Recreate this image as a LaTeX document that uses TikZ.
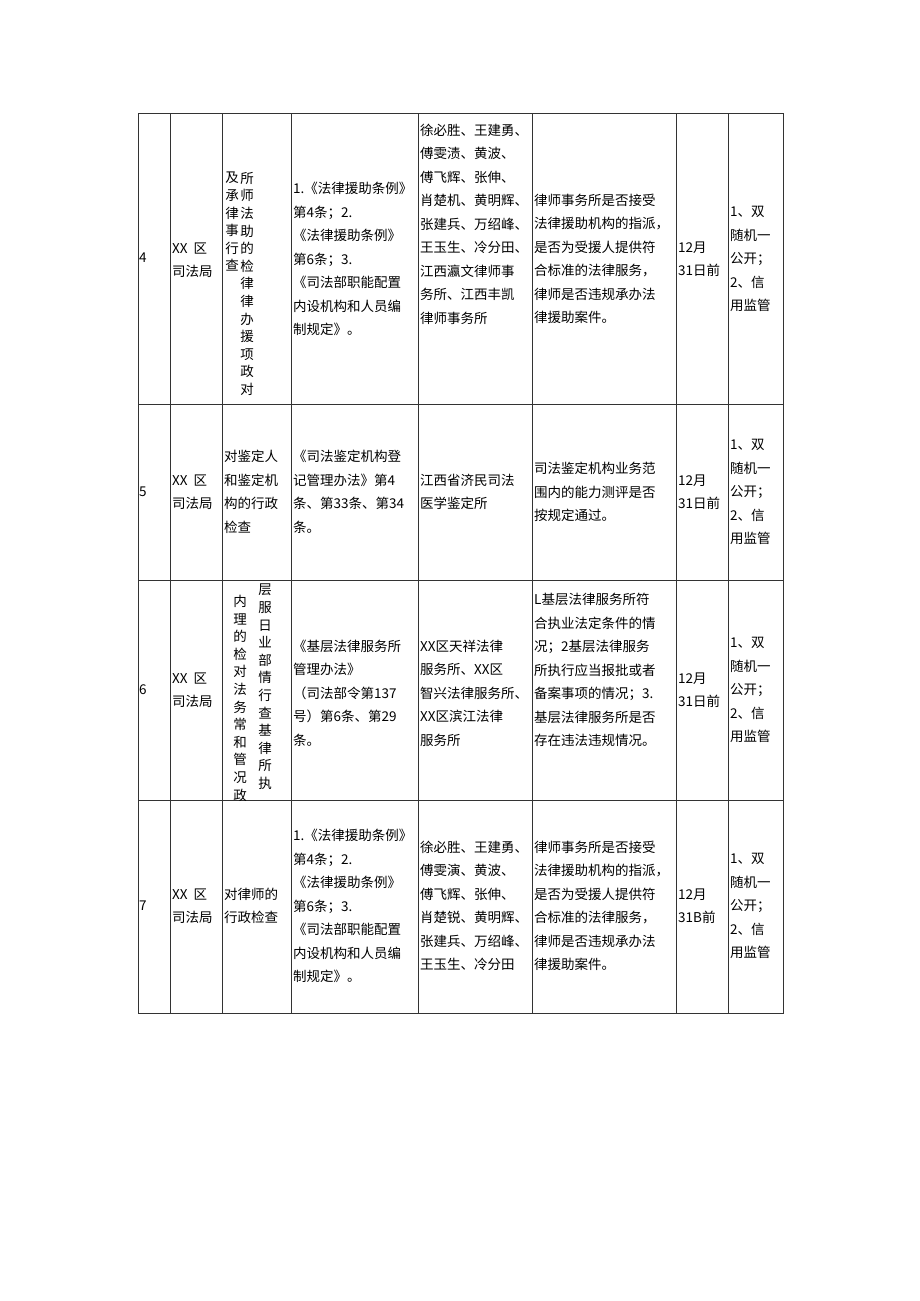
\documentclass[tikz,border=0pt]{standalone}
\usepackage{fontspec}
\setmainfont{Noto Sans CJK SC}
\begin{document}
\begin{tikzpicture}[x=1pt,y=-1pt,
  tx/.style={anchor=west,align=left,inner sep=0pt,font=\fontsize{13.5}{23.5}\selectfont},
  vt/.style={anchor=north,align=center,inner sep=0pt,font=\fontsize{13.5}{17.6}\selectfont}]
\useasboundingbox (0,0) rectangle (920,1301);
\draw[line width=0.8pt,black!80] (138,113) rectangle (783,1013);
\foreach \x in {170,222,291,418,532,676,728} \draw[line width=0.8pt,black!80] (\x,113) -- (\x,1013);
\foreach \y in {404,580,800} \draw[line width=0.8pt,black!80] (138,\y) -- (783,\y);
% row 4
\node[tx] (a1) at (139,258) {4};
\node[tx] (a2) at (172,260) {XX\ \ 区\\司法局};
\node[vt] (a3l) at (232,172) {及\\承\\律\\事\\行\\查};
\node[vt] (a3r) at (247,172) {所\\师\\法\\助\\的\\检\\律\\律\\办\\援\\项\\政\\对};
\node[tx] (a4) at (293,259) {1.《法律援助条例》\\第4条；2.\\《法律援助条例》\\第6条；3.\\《司法部职能配置\\内设机构和人员编\\制规定》。};
\node[tx] (a5) at (420,224) {徐必胜、王建勇、\\傅雯渍、黄波、\\傅飞辉、张伸、\\肖楚机、黄明辉、\\张建兵、万绍峰、\\王玉生、冷分田、\\江西瀛文律师事\\务所、江西丰凯\\律师事务所};
\node[tx] (a6) at (534,259) {律师事务所是否接受\\法律援助机构的指派，\\是否为受援人提供符\\合标准的法律服务，\\律师是否违规承办法\\律援助案件。};
\node[tx] (a7) at (678,259) {12月\\31日前};
\node[tx] (a8) at (730,259) {1、双\\随机一\\公开；\\2、信\\用监管};
% row 5
\node[tx] (b1) at (139,492) {5};
\node[tx] (b2) at (172,492) {XX\ \ 区\\司法局};
\node[tx] (b3) at (224,492) {对鉴定人\\和鉴定机\\构的行政\\检查};
\node[tx] (b4) at (293,492) {《司法鉴定机构登\\记管理办法》第4\\条、第33条、第34\\条。};
\node[tx] (b5) at (420,492) {江西省济民司法\\医学鉴定所};
\node[tx] (b6) at (534,492) {司法鉴定机构业务范\\围内的能力测评是否\\按规定通过。};
\node[tx] (b7) at (678,492) {12月\\31日前};
\node[tx] (b8) at (730,492) {1、双\\随机一\\公开；\\2、信\\用监管};
% row 6
\node[tx] (c1) at (139,690) {6};
\node[tx] (c2) at (172,690) {XX\ \ 区\\司法局};
\node[vt] (c3l) at (240,595) {内\\理\\的\\检\\对\\法\\务\\常\\和\\管\\况\\政};
\node[vt] (c3r) at (265,584) {层\\服\\日\\业\\部\\情\\行\\查\\基\\律\\所\\执};
\node[tx] (c4) at (293,693) {《基层法律服务所\\管理办法》\\（司法部令第137\\号）第6条、第29\\条。};
\node[tx] (c5) at (420,693) {XX区天祥法律\\服务所、XX区\\智兴法律服务所、\\XX区滨江法律\\服务所};
\node[tx] (c6) at (534,670) {L基层法律服务所符\\合执业法定条件的情\\况；2基层法律服务\\所执行应当报批或者\\备案事项的情况；3.\\基层法律服务所是否\\存在违法违规情况。};
\node[tx] (c7) at (678,690) {12月\\31日前};
\node[tx] (c8) at (730,690) {1、双\\随机一\\公开；\\2、信\\用监管};
% row 7
\node[tx] (d1) at (139,906) {7};
\node[tx] (d2) at (172,906) {XX\ \ 区\\司法局};
\node[tx] (d3) at (224,906) {对律师的\\行政检查};
\node[tx] (d4) at (293,906) {1.《法律援助条例》\\第4条；2.\\《法律援助条例》\\第6条；3.\\《司法部职能配置\\内设机构和人员编\\制规定》。};
\node[tx] (d5) at (420,906) {徐必胜、王建勇、\\傅雯演、黄波、\\傅飞辉、张伸、\\肖楚锐、黄明辉、\\张建兵、万绍峰、\\王玉生、冷分田};
\node[tx] (d6) at (534,906) {律师事务所是否接受\\法律援助机构的指派，\\是否为受援人提供符\\合标准的法律服务，\\律师是否违规承办法\\律援助案件。};
\node[tx] (d7) at (678,906) {12月\\31B前};
\node[tx] (d8) at (730,906) {1、双\\随机一\\公开；\\2、信\\用监管};
\end{tikzpicture}
\end{document}
